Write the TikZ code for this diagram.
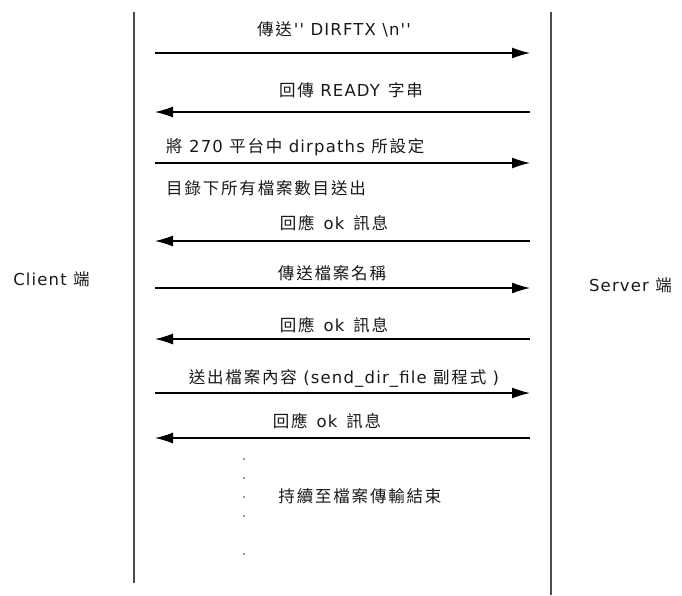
\documentclass[tikz,border=0pt]{standalone}
\usepackage{fontspec}
\usetikzlibrary{arrows.meta}
\newfontfamily\cj{Noto Sans CJK TC}[LetterSpace=11]
\newfontfamily\lat{DejaVu Sans}[LetterSpace=7]
\begin{document}
\begin{tikzpicture}[x=1pt,y=-1pt,
  lbl/.style={inner sep=0pt, font=\lat\fontsize{16.5}{19}\selectfont, text=black!90},
  life/.style={draw=black!70, line width=2pt},
  msg/.style={draw=black, line width=1.2pt, -{Latex[length=18pt,width=11pt]}},
  dotm/.style={fill=black!80, circle, inner sep=0pt, minimum size=1.8pt}]
\useasboundingbox (0,0) rectangle (682,595);
% lifelines
\coordinate (ct) at (133.5,12); \coordinate (cb) at (133.5,583);
\coordinate (st) at (551,12);   \coordinate (sb) at (551,595);
\draw[life] (ct) -- (cb);
\draw[life] (st) -- (sb);
% side labels
\node[lbl] (client) at (51.5,279) {Client {\cj 端}};
\node[lbl] (server) at (630.5,285) {Server {\cj 端}};
% message endpoints
\foreach \n/\y in {1/53,2/112,3/163,4/241,5/288,6/339,7/393,8/438}{
  \coordinate (l\n) at (155,\y);
  \coordinate (r\n) at (530,\y);
}
\draw[msg] (l1) -- (r1);
\draw[msg] (r2) -- (l2);
\draw[msg] (l3) -- (r3);
\draw[msg] (r4) -- (l4);
\draw[msg] (l5) -- (r5);
\draw[msg] (r6) -- (l6);
\draw[msg] (l7) -- (r7);
\draw[msg] (r8) -- (l8);
% labels
\node[lbl] (t1) at (334,29) {{\cj 傳送}\hspace{2pt}'' DIRFTX \textbackslash n''};
\node[lbl] (t2) at (351,90) {{\cj 回傳} READY\hspace{8pt}{\cj 字串}};
\node[lbl, anchor=west] (t3a) at (166,147) {{\cj 將} 270 {\cj 平台中} dirpaths {\cj 所設定}};
\node[lbl, anchor=west] (t3b) at (166,188) {\cj 目錄下所有檔案數目送出};
\node[lbl] (t4) at (334,223) {{\cj 回應}\hspace{9pt}ok\hspace{9pt}{\cj 訊息}};
\node[lbl] (t5) at (332,273) {\cj 傳送檔案名稱};
\node[lbl] (t6) at (334,325) {{\cj 回應}\hspace{9pt}ok\hspace{9pt}{\cj 訊息}};
\node[lbl] (t7) at (344,378) {{\cj 送出檔案內容} (send\_dir\_file {\cj 副程式} )};
\node[lbl] (t8) at (327,421) {{\cj 回應}\hspace{9pt}ok\hspace{9pt}{\cj 訊息}};
\node[lbl] (t9) at (360,496) {\cj 持續至檔案傳輸結束};
% dots
\foreach \y [count=\i] in {459,478,497,516,554}{
  \node[dotm] (d\i) at (244,\y) {};
}
\end{tikzpicture}
\end{document}
